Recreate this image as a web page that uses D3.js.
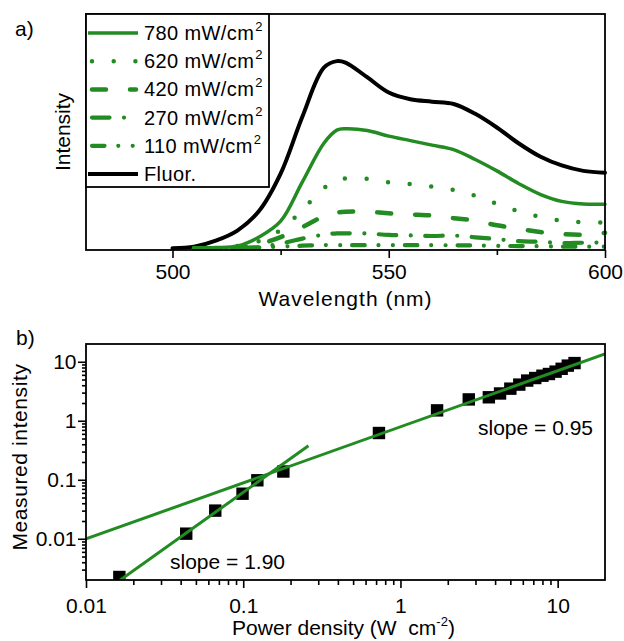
<!DOCTYPE html>
<html>
<head>
<meta charset="utf-8">
<script src="https://cdn.jsdelivr.net/npm/d3@7"></script>
<style>
  body { margin: 0; background: #fff; }
  svg { display: block; font-family: 'Liberation Sans', Arial, sans-serif; }
</style>
</head>
<body>
<svg id="chart" width="624" height="641"></svg>
<script>
// ---- data, panel a) spectra ----
var wavelengths = [500, 505, 510, 515, 520, 525, 530, 535, 538, 540, 545, 550, 555, 560, 565, 570, 575, 580, 585, 590, 595, 600];
var fluor = [0, 0.008, 0.040, 0.094, 0.198, 0.398, 0.701, 0.965, 1.0, 0.992, 0.914, 0.832, 0.796, 0.783, 0.771, 0.718, 0.645, 0.561, 0.490, 0.442, 0.413, 0.403];
var p780 = [null, 0, 0.003, 0.011, 0.059, 0.144, 0.353, 0.561, 0.631, 0.638, 0.629, 0.599, 0.575, 0.551, 0.527, 0.474, 0.413, 0.346, 0.288, 0.250, 0.236, 0.235];
var p620 = [null, 0, 0, 0.011, 0.037, 0.097, 0.203, 0.321, 0.360, 0.373, 0.371, 0.352, 0.343, 0.329, 0.311, 0.280, 0.237, 0.197, 0.168, 0.147, 0.139, 0.136];
var p420 = [null, 0, 0, 0, 0.021, 0.059, 0.112, 0.171, 0.190, 0.195, 0.195, 0.186, 0.180, 0.174, 0.160, 0.147, 0.122, 0.104, 0.086, 0.075, 0.072, 0.082];
var p270 = [null, 0, 0, 0, 0.005, 0.024, 0.051, 0.072, 0.079, 0.079, 0.078, 0.071, 0.068, 0.065, 0.067, 0.058, 0.048, 0.037, 0.034, 0.027, 0.029, 0.030];
var p110 = [null, 0, 0, 0, 0.003, 0.008, 0.013, 0.016, 0.016, 0.016, 0.016, 0.016, 0.016, 0.016, 0.015, 0.014, 0.012, 0.011, 0.010, 0.008, 0.008, 0.008];
var legendLabels = ['780 mW/cm', '620 mW/cm', '420 mW/cm', '270 mW/cm', '110 mW/cm', 'Fluor.'];
var wavelengthTicks = [500, 550, 600];
var wavelengthMinor = [525, 575];

// ---- data, panel b) power dependence ----
var powerDensity = [0.0163, 0.0434, 0.0664, 0.099, 0.123, 0.18, 0.73, 1.71, 2.72, 3.65, 4.3, 5.0, 5.7, 6.4, 7.2, 8.0, 8.8, 9.7, 10.6, 11.6, 12.8];
var measured = [0.00225, 0.0122, 0.030, 0.058, 0.098, 0.138, 0.62, 1.5, 2.3, 2.5, 2.9, 3.5, 4.1, 4.8, 5.3, 5.8, 6.2, 6.8, 7.6, 8.6, 9.5];
var fitSlopes = [0.95, 1.90];
var fitPrefactors = [0.79, 4.86];
var fitRanges = [[0.01, 20], [0.015, 0.26]];
var slopeLabels = ['slope = 0.95', 'slope = 1.90'];
var logTicks = [0.01, 0.1, 1, 10];
var logTickLabels = ['0.01', '0.1', '1', '10'];

var green = '#228B22';
var svg = d3.select('#chart');

//Panel geometry
var left = 86, right = 605;
var topA = 14, bottomA = 250;
var topB = 344, bottomB = 580;

// =================== panel a ===================
var xA = d3.scaleLinear().domain([480, 600]).range([left, right]);
var yA = d3.scaleLinear().domain([-0.01, 1.252]).range([bottomA, topA]);

var styles = [
  { data: p780, dash: null, width: 3.5, color: green },
  { data: p620, dash: '0,21.7', width: 4.5, color: green },
  { data: p420, dash: '14,24', width: 4.5, color: green },
  { data: p270, dash: '17.5,14.5,0,14.5', width: 4.2, color: green },
  { data: p110, dash: '12.5,13.8,0,14.4,0,12', width: 4.2, color: green },
  { data: fluor, dash: null, width: 4, color: 'black' }
];

var lineA = d3.line()
  .defined(function(d) { return d[1] != null; })
  .x(function(d) { return xA(d[0]); })
  .y(function(d) { return yA(d[1]); })
  .curve(d3.curveCatmullRom.alpha(0.5));

var curves = svg.append('g').attr('class', 'curves');
styles.slice().reverse().forEach(function(s) {
  var pts = wavelengths.map(function(w, i) { return [w, s.data[i]]; });
  curves.append('path')
    .attr('d', lineA(pts))
    .attr('fill', 'none')
    .attr('stroke', s.color)
    .attr('stroke-width', s.width)
    .attr('stroke-linecap', 'round')
    .attr('stroke-linejoin', 'round')
    .attr('stroke-dasharray', s.dash);
});

//x axis (ticks outward)
var axA = svg.append('g').attr('transform', 'translate(0,' + bottomA + ')');
axA.call(d3.axisBottom(xA).tickValues(wavelengthMinor).tickSize(5).tickFormat(''));
axA.append('g').call(d3.axisBottom(xA).tickValues(wavelengthTicks).tickSize(8).tickPadding(6).tickFormat(d3.format('d')));
axA.selectAll('.domain').remove();
axA.selectAll('line').attr('stroke', 'black').attr('stroke-width', 1.6);
axA.selectAll('text').attr('font-size', 21).attr('fill', 'black').attr('font-family', "'Liberation Sans', Arial, sans-serif");

svg.append('rect')
  .attr('x', left).attr('y', topA)
  .attr('width', right - left).attr('height', bottomA - topA)
  .attr('fill', 'none').attr('stroke', 'black').attr('stroke-width', 1.8);

//Legend
var legend = svg.append('g').attr('class', 'legend');
legend.append('rect')
  .attr('x', left).attr('y', topA)
  .attr('width', 269 - left).attr('height', 187 - topA)
  .attr('fill', 'white').attr('stroke', 'black').attr('stroke-width', 1.8);

styles.forEach(function(s, i) {
  var ry = 33 + i * 28.2;
  var x0 = s.dash ? 92 : 88;
  var x1 = s.dash ? 136 : 138;
  legend.append('path')
    .attr('d', 'M' + x0 + ',' + ry + 'H' + x1)
    .attr('stroke', s.color)
    .attr('stroke-width', s.width)
    .attr('stroke-linecap', s.dash ? 'round' : 'butt')
    .attr('stroke-dasharray', s.dash);
  var t = legend.append('text')
    .attr('x', 144).attr('y', ry + 7)
    .attr('font-size', 20)
    .attr('letter-spacing', 0.4)
    .text(legendLabels[i]);
  if (i < 5) {
    t.append('tspan').attr('font-size', 13).attr('dy', -9).attr('dx', 1).text('2');
  }
});

//Labels panel a
svg.append('text').attr('x', 15).attr('y', 36).attr('font-size', 21).text('a)');
svg.append('text')
  .attr('transform', 'translate(70,' + ((topA + bottomA) / 2) + ') rotate(-90)')
  .attr('text-anchor', 'middle').attr('font-size', 21)
  .text('Intensity');
svg.append('text')
  .attr('x', (left + right) / 2).attr('y', 306)
  .attr('text-anchor', 'middle').attr('font-size', 21).attr('letter-spacing', 1)
  .text('Wavelength (nm)');

// =================== panel b ===================
var xB = d3.scaleLog().domain([0.01, 20]).range([left, right]);
var yB = d3.scaleLog().domain([0.002, 20]).range([bottomB, topB]);

function minorLog(domain) {
  var out = [];
  for (var e = -3; e <= 1; e++) {
    for (var m = 2; m <= 9; m++) {
      var v = m * Math.pow(10, e);
      if (v > domain[0] * 1.0001 && v < domain[1] * 0.9999) out.push(v);
    }
  }
  return out;
}

svg.append('clipPath').attr('id', 'clipB')
  .append('rect')
  .attr('x', left).attr('y', topB)
  .attr('width', right - left).attr('height', bottomB - topB);

var plotB = svg.append('g').attr('clip-path', 'url(#clipB)');

//Squares
var sq = 12.4;
plotB.selectAll('rect.pt')
  .data(powerDensity)
  .enter()
  .append('rect')
  .attr('class', 'pt')
  .attr('x', function(d) { return xB(d) - sq / 2; })
  .attr('y', function(d, i) { return yB(measured[i]) - sq / 2; })
  .attr('width', sq)
  .attr('height', sq)
  .attr('fill', 'black');

//Fit lines (power laws, drawn over the squares)
var lineB = d3.line()
  .x(function(d) { return xB(d[0]); })
  .y(function(d) { return yB(d[1]); });

fitSlopes.forEach(function(k, i) {
  var pts = fitRanges[i].map(function(x) { return [x, fitPrefactors[i] * Math.pow(x, k)]; });
  plotB.append('path')
    .attr('d', lineB(pts))
    .attr('fill', 'none')
    .attr('stroke', green)
    .attr('stroke-width', 3);
});

//Axes
var axXB = svg.append('g').attr('transform', 'translate(0,' + bottomB + ')');
axXB.call(d3.axisBottom(xB).tickValues(minorLog([0.01, 20])).tickSize(5).tickFormat(''));
axXB.append('g').call(d3.axisBottom(xB).tickValues(logTicks).tickSize(8).tickPadding(10)
  .tickFormat(function(d, i) { return logTickLabels[i]; }));

var axYB = svg.append('g').attr('transform', 'translate(' + left + ',0)');
axYB.call(d3.axisLeft(yB).tickValues(minorLog([0.002, 20])).tickSize(4).tickFormat(''));
axYB.append('g').call(d3.axisLeft(yB).tickValues(logTicks).tickSize(8).tickPadding(1.5)
  .tickFormat(function(d, i) { return logTickLabels[i]; }));

[axXB, axYB].forEach(function(a) {
  a.selectAll('.domain').remove();
  a.selectAll('line').attr('stroke', 'black').attr('stroke-width', 1.6);
  a.selectAll('text').attr('font-size', 21).attr('fill', 'black').attr('font-family', "'Liberation Sans', Arial, sans-serif");
});

svg.append('rect')
  .attr('x', left).attr('y', topB)
  .attr('width', right - left).attr('height', bottomB - topB)
  .attr('fill', 'none').attr('stroke', 'black').attr('stroke-width', 1.8);

//Slope labels
svg.append('text').attr('x', 478).attr('y', 435).attr('font-size', 21).text(slopeLabels[0]);
svg.append('text').attr('x', 170).attr('y', 569).attr('font-size', 21).text(slopeLabels[1]);

//Labels panel b
svg.append('text').attr('x', 16).attr('y', 345).attr('font-size', 21).text('b)');
svg.append('text')
  .attr('transform', 'translate(27,457) rotate(-90)')
  .attr('text-anchor', 'middle').attr('font-size', 21).attr('letter-spacing', 0.6)
  .text('Measured intensity');

var xt = svg.append('text')
  .attr('x', (left + right) / 2 - 2).attr('y', 635)
  .attr('text-anchor', 'middle').attr('font-size', 21);
xt.append('tspan').text('Power density (W\u00a0 cm');
xt.append('tspan').attr('font-size', 13).attr('dy', -9).text('-2');
xt.append('tspan').attr('dy', 9).text(')');
</script>
</body>
</html>
